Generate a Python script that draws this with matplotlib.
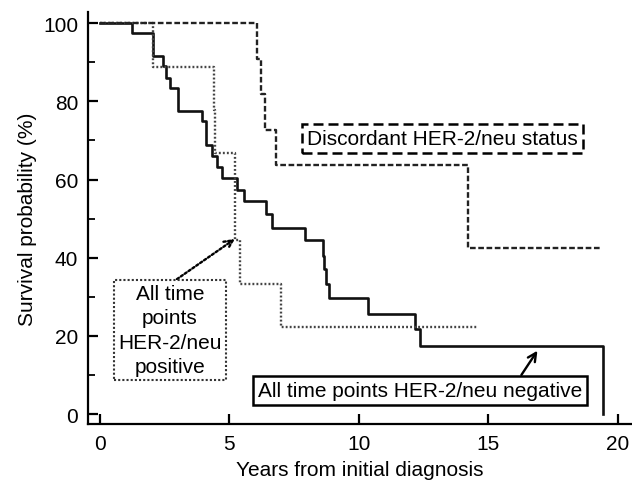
import matplotlib
matplotlib.use("Agg")
import matplotlib.pyplot as plt

# ── Data ──────────────────────────────────────────────────────────────────────
# All time points HER-2/neu negative (solid)
neg_years = [0, 1.26, 2.06, 2.44, 2.57, 2.70, 3.02, 3.93, 4.09, 4.31, 4.54, 4.70,
             5.28, 5.56, 6.43, 6.63, 7.92, 8.60, 8.66, 8.72, 8.83, 10.36, 12.16,
             12.36, 19.42]
neg_surv = [100, 97.4, 91.6, 89.1, 86.1, 83.3, 77.6, 75.0, 68.9, 66.1, 63.1, 60.3,
            57.4, 54.6, 51.2, 47.7, 44.5, 40.5, 37.1, 33.2, 29.6, 25.7, 21.7,
            17.5, 0]

# All time points HER-2/neu positive (dotted)
pos_years = [0, 2.06, 4.41, 4.46, 5.21, 5.40, 6.98, 14.6]
pos_surv = [100, 88.9, 77.8, 66.7, 44.4, 33.3, 22.2, 22.2]

# Discordant HER-2/neu status (dashed)
dis_years = [0, 6.05, 6.22, 6.37, 6.80, 14.2, 19.4]
dis_surv = [100, 90.9, 81.8, 72.7, 63.6, 42.4, 42.4]

x_ticks = [0, 5, 10, 15, 20]
y_ticks = [0, 20, 40, 60, 80, 100]
y_minor = [10, 30, 50, 70, 90]

plt.rcParams["font.family"] = ["Liberation Sans", "DejaVu Sans"]
FS = 15

fig = plt.figure(figsize=(6.32, 4.85), dpi=100)
ax = fig.add_axes([0.139, 0.1237, 0.861, 0.849])

ax.step(neg_years, neg_surv, where="post", color="#111111", lw=1.9)
ax.step(pos_years, pos_surv, where="post", color="#444444", lw=1.7,
        linestyle=(0, (0.8, 0.9)))
ax.step(dis_years, dis_surv, where="post", color="#222222", lw=1.7,
        linestyle=(0, (2.4, 1.1)))

ax.set_xlim(-0.463, 20.54)
ax.set_ylim(-2.56, 102.8)

for side in ("top", "right"):
    ax.spines[side].set_visible(False)
for side in ("left", "bottom"):
    ax.spines[side].set_linewidth(1.6)

ax.set_xticks(x_ticks)
ax.set_yticks(y_ticks)
ax.set_yticks(y_minor, minor=True)
ax.tick_params(axis="both", which="major", direction="in", length=7, width=1.6,
               labelsize=FS, pad=7)
ax.tick_params(axis="y", which="minor", direction="in", length=5, width=1.3)

ax.set_xlabel("Years from initial diagnosis", fontsize=FS, labelpad=5)
ax.set_ylabel("Survival probability (%)", fontsize=FS, labelpad=4)

# ── Annotations ───────────────────────────────────────────────────────────────
ax.text(13.24, 70.5, "Discordant HER-2/neu status", fontsize=FS,
        ha="center", va="center",
        bbox=dict(boxstyle="square,pad=0.25", fc="white", ec="black",
                  lw=1.8, ls=(0, (4, 2))))

ax.annotate("All time\npoints\nHER-2/neu\npositive", xy=(5.21, 44.8),
            xytext=(2.7, 21.5), fontsize=FS, ha="center", va="center",
            linespacing=1.35,
            bbox=dict(boxstyle="square,pad=0.2", fc="white", ec="#333333",
                      lw=1.5, ls=(0, (1, 1))),
            arrowprops=dict(arrowstyle="->", color="black", lw=1.7,
                            ls=(0, (1, 1)), shrinkA=0, shrinkB=0,
                            relpos=(0.5, 1.0)))

ax.annotate("All time points HER-2/neu negative", xy=(16.89, 16.2),
            xytext=(12.36, 6.0), fontsize=FS, ha="center", va="center",
            bbox=dict(boxstyle="square,pad=0.25", fc="white", ec="black", lw=1.8),
            arrowprops=dict(arrowstyle="->", color="black", lw=1.7,
                            shrinkA=0, shrinkB=0, relpos=(0.8, 1.0)))

fig.savefig("out.png", dpi=100)
